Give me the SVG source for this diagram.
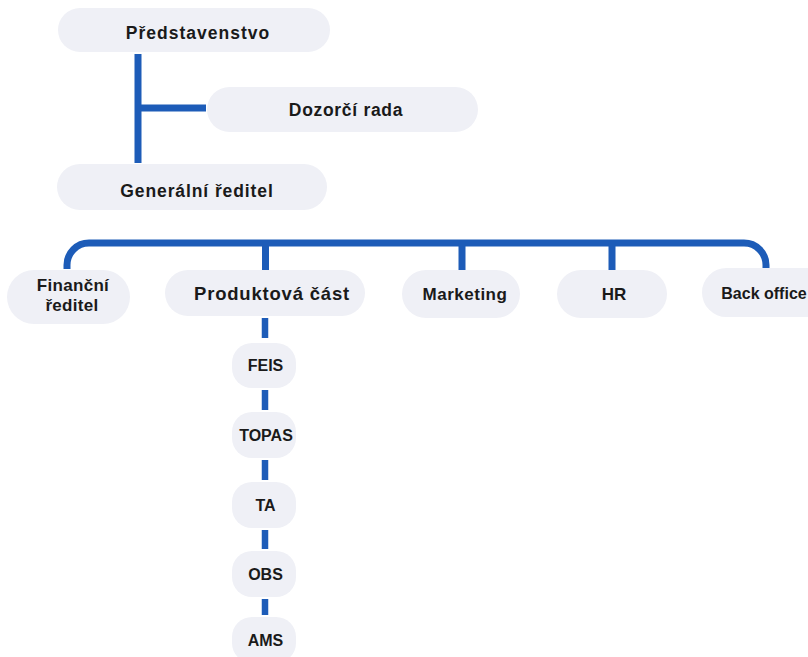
<svg xmlns="http://www.w3.org/2000/svg" width="808" height="657" viewBox="0 0 808 657">
<style>
.pill{fill:#eff0f6;}
.t{font-family:"Liberation Sans",Arial,sans-serif;font-weight:bold;font-size:17.5px;fill:#1a1a1a;text-anchor:middle;}
.s{font-size:16px;}
.ln{fill:none;stroke:#1d5cb8;stroke-width:7;}
.d{stroke-width:6.5;}
</style>
<rect width="808" height="657" fill="#ffffff"/>
<g id="connectors">
<path class="ln" d="M138 54 V163 M138 108 H206"/>
<path class="ln" d="M67 269 V265 A22 22 0 0 1 89 243 H744 A22 22 0 0 1 766 265 V271"/>
<path class="ln" d="M265.5 243 V270 M462 243 V270 M612 243 V270"/>
<path class="ln d" d="M265 318 V338 M265 390 V410 M265 460 V480 M265 530 V549 M265 599 V615"/>
</g>
<g id="predstavenstvo">
<rect class="pill" x="58" y="8" width="272" height="44" rx="22"/>
<text class="t" x="198" y="39" letter-spacing="1">Představenstvo</text>
</g>
<g id="dozorci-rada">
<rect class="pill" x="207" y="87" width="271" height="45" rx="22.5"/>
<text class="t" x="346" y="116" letter-spacing="0.7">Dozorčí rada</text>
</g>
<g id="generalni-reditel">
<rect class="pill" x="57" y="164" width="270" height="46" rx="23"/>
<text class="t" x="197" y="197" letter-spacing="0.9">Generální ředitel</text>
</g>
<g id="financni-reditel">
<rect class="pill" x="7" y="270" width="123" height="54" rx="27"/>
<text class="t" x="73" y="291" style="font-size:17px" letter-spacing="0.3">Finanční</text>
<text class="t" x="72" y="311" style="font-size:17px" letter-spacing="0.3">ředitel</text>
</g>
<g id="produktova-cast">
<rect class="pill" x="165" y="270" width="200" height="46" rx="23"/>
<text class="t" x="272" y="300" style="font-size:18.5px" letter-spacing="0.8">Produktová část</text>
</g>
<g id="marketing">
<rect class="pill" x="402" y="270" width="118" height="48" rx="24"/>
<text class="t" x="465" y="300" style="font-size:17px" letter-spacing="0.5">Marketing</text>
</g>
<g id="hr">
<rect class="pill" x="557" y="270" width="110" height="48" rx="24"/>
<text class="t" x="614" y="300" style="font-size:17px">HR</text>
</g>
<g id="back-office">
<rect class="pill" x="702" y="268" width="130" height="49" rx="24.5"/>
<text class="t s" x="764" y="299">Back office</text>
</g>
<g id="feis">
<rect class="pill" x="232" y="343" width="64" height="45" rx="20"/>
<text class="t s" x="265.5" y="371">FEIS</text>
</g>
<g id="topas">
<rect class="pill" x="232" y="412" width="64" height="46" rx="20"/>
<text class="t s" x="266" y="441">TOPAS</text>
</g>
<g id="ta">
<rect class="pill" x="232" y="482" width="64" height="46" rx="20"/>
<text class="t s" x="265.5" y="511">TA</text>
</g>
<g id="obs">
<rect class="pill" x="232" y="551" width="64" height="46" rx="20"/>
<text class="t s" x="265.5" y="580">OBS</text>
</g>
<g id="ams">
<rect class="pill" x="232" y="617" width="64" height="46" rx="20"/>
<text class="t s" x="265.5" y="646">AMS</text>
</g>
</svg>
